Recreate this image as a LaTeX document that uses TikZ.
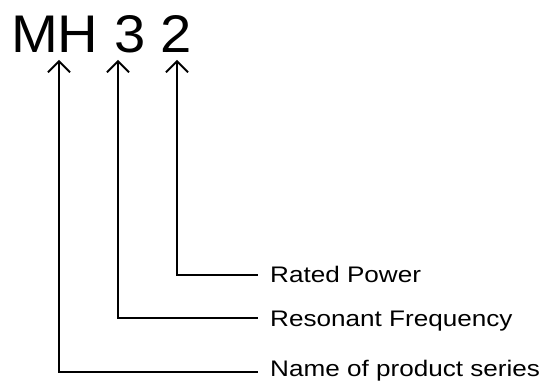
\documentclass[tikz,border=0pt]{standalone}
\usepackage{fontspec}
\setmainfont{Liberation Sans}
\newfontfamily\titlefont[FakeStretch=1.06]{Liberation Sans}
\newfontfamily\labfont[FakeStretch=1.16]{Liberation Sans}
\usetikzlibrary{arrows.meta}
\begin{document}
\begin{tikzpicture}[x=1pt,y=1pt,
  conn/.style={line width=2pt,line cap=rect,{Straight Barb[length=11pt,width=22pt,line width=1.8pt]}-},
  lab/.style={anchor=base west,inner sep=0pt,font=\labfont\fontsize{22.5}{26}\selectfont}]
\useasboundingbox (0,0) rectangle (542,-385);
\node[anchor=base west,inner sep=0pt,font=\titlefont\fontsize{53}{60}\selectfont] (title) at (11,-52.3) {MH 3 2};
\coordinate (t1) at (59,-60);
\coordinate (t2) at (118,-60);
\coordinate (t3) at (177,-60);
\node[lab] (rp) at (270,-282.7) {Rated Power};
\node[lab] (rf) at (270,-326.2) {Resonant Frequency};
\node[lab] (ns) at (270,-376.7) {Name of product series};
\draw[conn] (t3) |- ([xshift=-13.5pt]rp.base west |- 0,-275);
\draw[conn] (t2) |- ([xshift=-13.5pt]rf.base west |- 0,-318);
\draw[conn] (t1) |- ([xshift=-13.5pt]ns.base west |- 0,-372);
\end{tikzpicture}
\end{document}
